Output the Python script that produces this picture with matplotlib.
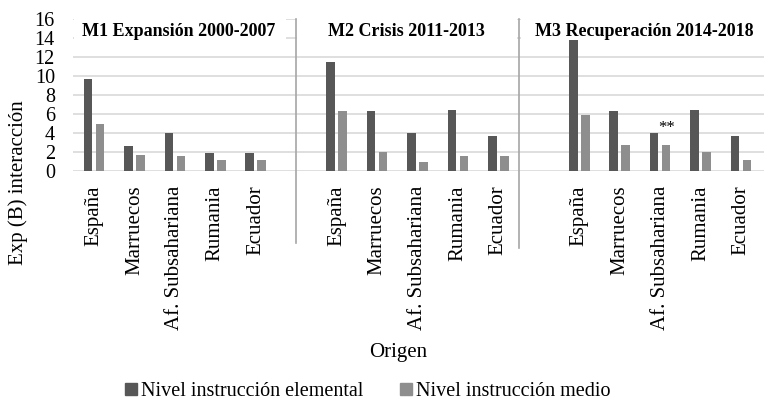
import numpy as np
import matplotlib
matplotlib.use('Agg')
import matplotlib.pyplot as plt
from matplotlib.patches import Rectangle
from matplotlib.lines import Line2D

plt.rcParams['font.family'] = ['Liberation Serif', 'DejaVu Serif']

# data
countries = ['España', 'Marruecos', 'Af. Subsahariana', 'Rumania', 'Ecuador']
periods = ['M1 Expansión 2000-2007', 'M2 Crisis 2011-2013', 'M3 Recuperación 2014-2018']
elemental = [
    [9.75, 2.7, 4.05, 1.9, 1.95],
    [11.5, 6.3, 4.05, 6.45, 3.7],
    [13.8, 6.3, 4.05, 6.45, 3.7],
]
medio = [
    [5.0, 1.7, 1.6, 1.2, 1.2],
    [6.3, 2.0, 1.0, 1.6, 1.6],
    [5.95, 2.8, 2.8, 2.05, 1.15],
]
yticks = [0, 2, 4, 6, 8, 10, 12, 14, 16]

dark = '#575757'
light = '#8e8e8e'

fig = plt.figure(figsize=(7.64, 4.05), dpi=100)
ax = fig.add_axes([73/764, 1 - 171.3/405, 1 - 73/764, 152/405])

# each panel has 5 slots, a blank slot separates the panels
starts = [0, 6, 12]
w = 0.213
off = 0.148
pos = []
for p in range(3):
    x = np.arange(5) + starts[p]
    pos.extend(x)
    ax.bar(x - off, elemental[p], width=w, color=dark, zorder=3)
    ax.bar(x + off, medio[p], width=w, color=light, zorder=3)

ax.set_xlim(-0.52, 16.57)
ax.set_ylim(0, 16)
ax.set_yticks(yticks)
ax.set_xticks(pos)
ax.set_xticklabels(countries * 3, rotation=90, fontsize=15)
ax.tick_params(axis='x', length=0, pad=10)
ax.tick_params(axis='y', length=0, pad=13, labelsize=14.5)
ax.grid(axis='y', color='#d9d9d9', linewidth=1.2, zorder=0)
for s in ax.spines.values():
    s.set_visible(False)

# white boxes behind panel titles
for x0, x1 in [(-0.52, 4.77), (5.0, 10.5), (10.52, 16.6)]:
    ax.add_patch(Rectangle((x0 + 0.03, 13.6), x1 - x0 - 0.06, 2.8, facecolor='white',
                           edgecolor='none', zorder=2, clip_on=False))
for xc, t in zip([2.1, 7.72, 13.61], periods):
    ax.text(xc, 14.7, t, ha='center', va='center', fontsize=13, fontweight='bold', zorder=4)

# panel separators
ax.plot([5.0, 5.0], [1.0, -0.472], transform=ax.get_xaxis_transform(),
        color='#a6a6a6', linewidth=1.2, clip_on=False, zorder=5)
ax.plot([10.5, 10.5], [1.0, -0.505], transform=ax.get_xaxis_transform(),
        color='#a6a6a6', linewidth=1.2, clip_on=False, zorder=5)

# significance mark
ax.text(14 + off, medio[2][2] + 0.9, '**', ha='center', va='bottom', fontsize=12, zorder=4)

fig.text(18/764, 1 - 183/405, 'Exp (B) interacción', rotation=90, ha='center', va='center', fontsize=15)
fig.text(398/764, 1 - 352/405, 'Origen', ha='center', va='center', fontsize=15)

handles = [Line2D([], [], marker='s', linestyle='none', color=dark, markersize=8),
           Line2D([], [], marker='s', linestyle='none', color=light, markersize=8)]
fig.legend(handles, ['Nivel instrucción elemental', 'Nivel instrucción medio'],
           loc='center', bbox_to_anchor=(368/764, 1 - 391/405), ncol=2, frameon=False,
           fontsize=14.5, handlelength=0.6, handletextpad=0.2, columnspacing=1.8)

fig.savefig('out.png', dpi=100)
